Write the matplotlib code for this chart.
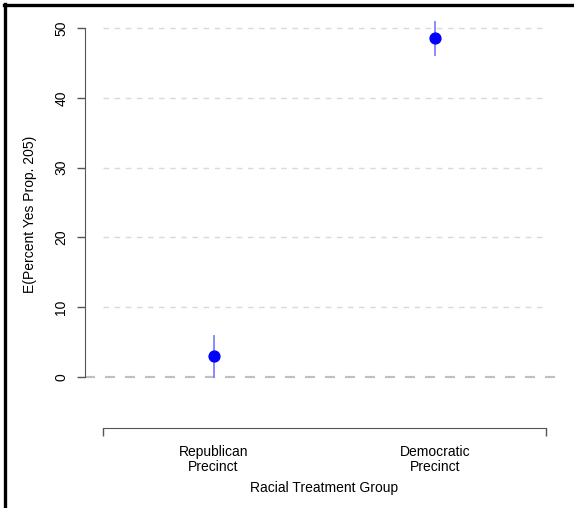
import matplotlib
matplotlib.use("Agg")
import matplotlib.pyplot as plt
from matplotlib.lines import Line2D

plt.rcParams['font.family'] = ['Liberation Sans', 'DejaVu Sans']

# datos
grupos = ["Republican\nPrecinct", "Democratic\nPrecinct"]
posiciones = [1, 2]
estimados = [3.0, 48.6]
ic_inf = [0.05, 46.2]
ic_sup = [5.9, 50.8]
yticks = [0, 10, 20, 30, 40, 50]

W, H = 574, 508
fig = plt.figure(figsize=(W / 100, H / 100), dpi=100)

# ejes en pixeles: 0 -> y=377, 6.98 px por unidad
ppu = 6.98
y0_px = 377
ymin, ymax = -10, 52
top_px = y0_px - ymax * ppu
bot_px = y0_px - ymin * ppu
left_px, right_px = 85, 564
ax = fig.add_axes([left_px / W, (H - bot_px) / H, (right_px - left_px) / W, (bot_px - top_px) / H])
ax.set_xlim(0.42, 2.58)
ax.set_ylim(ymin, ymax)

# lineas de referencia
for v in yticks[1:]:
    ax.plot([0.5, 2.5], [v, v], color="#d9d9d9", lw=1.0, dashes=(4, 4), zorder=1)
ax.axhline(0, color="#c0c0c0", lw=1.6, dashes=(4.5, 4.5), zorder=1)

# intervalos y puntos
for x, e, lo, hi in zip(posiciones, estimados, ic_inf, ic_sup):
    ax.plot([x, x], [lo, hi], color="#8080ff", lw=1.3, zorder=2)
ax.plot(posiciones, estimados, "o", color="#0000ff", markersize=7.8, zorder=3)

# ejes estilo R
for s in ["top", "right"]:
    ax.spines[s].set_visible(False)
ax.spines["left"].set_bounds(0, 50)
ax.spines["left"].set_color("#555555")
ax.spines["bottom"].set_position(("data", -(428 - y0_px) / ppu))
ax.spines["bottom"].set_bounds(0.5, 2.5)
ax.spines["bottom"].set_color("#555555")

ax.set_yticks(yticks)
ax.set_yticklabels([str(v) for v in yticks], rotation=90, va="center", fontsize=10)
ax.tick_params(axis="y", length=6, width=1, color="#555555", pad=6)

ax.set_xticks([0.5, 2.5])
ax.set_xticklabels(["", ""])
ax.set_xticks(posiciones, minor=True)
ax.set_xticklabels(grupos, minor=True, fontsize=10, linespacing=1.15)
ax.tick_params(axis="x", which="major", length=6, width=1, color="#555555")
ax.tick_params(axis="x", which="minor", length=0, pad=12)

ax.set_ylabel("E(Percent Yes Prop. 205)", fontsize=10)
ax.yaxis.set_label_coords((37 - left_px) / (right_px - left_px), (bot_px - 214) / (bot_px - top_px))
ax.set_xlabel("Racial Treatment Group", fontsize=10)
ax.xaxis.set_label_coords(0.5, -(481 - bot_px) / (bot_px - top_px))

# borde del recorte
fig.add_artist(Line2D([5 / W, 5 / W], [0, 1 - 4 / H], color="black", lw=2.4, transform=fig.transFigure))
fig.add_artist(Line2D([4 / W, 1], [1 - 5 / H, 1 - 5 / H], color="black", lw=2.4, transform=fig.transFigure))

fig.savefig("out.png", dpi=100)
